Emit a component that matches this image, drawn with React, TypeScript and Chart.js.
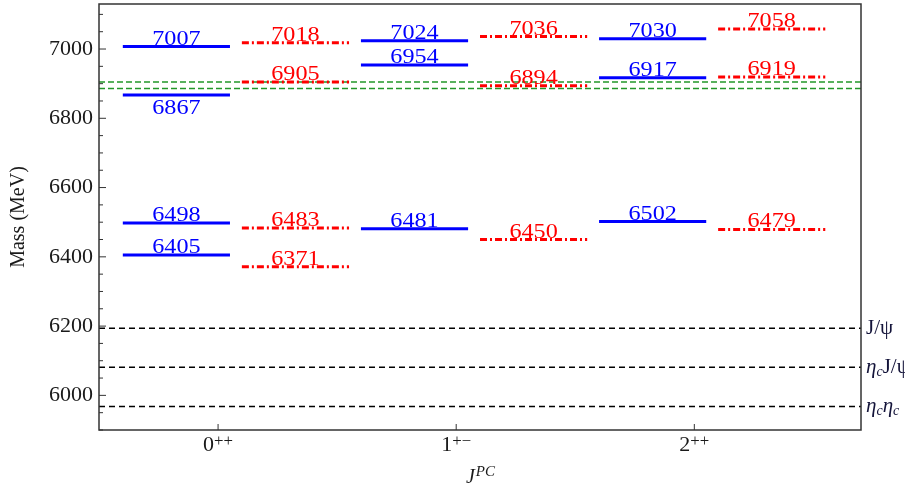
import React, { useEffect, useRef } from 'react';
import { Chart, registerables } from 'chart.js';

Chart.register(...registerables);

// ---- data ----
const categoryDigits = ['0', '1', '2'];
const categoryParity = ['++', '+\u2212', '++'];
const blueMasses = [
  [6405, 6498, 6867, 7007],
  [6481, 6954, 7024],
  [6502, 6917, 7030],
];
const redMasses = [
  [6371, 6483, 6905, 7018],
  [6450, 6894, 7036],
  [6479, 6919, 7058],
];
const labelsBelow = [6867];
const thresholdMasses = [6194, 6081, 5968];
const thresholdNames = [
  [{ t: 'J/\u03C8' }],
  [{ t: '\u03B7', i: true }, { t: 'c', sub: true, i: true }, { t: 'J/\u03C8' }],
  [{ t: '\u03B7', i: true }, { t: 'c', sub: true, i: true }, { t: '\u03B7', i: true }, { t: 'c', sub: true, i: true }],
];
const x6900Masses = [6905, 6886];
const yMin = 5900;
const yMax = 7130;
const yMajorStep = 200;
const yMinorStep = 50;

const SERIF = '"Liberation Serif", "DejaVu Serif", serif';
const BLUE = '#0000ff';
const RED = '#ff0000';

function buildDatasets() {
  const ds: any[] = [];
  thresholdMasses.forEach((m) => {
    ds.push({
      data: [{ x: -0.5, y: m }, { x: 2.7, y: m }],
      borderColor: '#000000', borderWidth: 1.5, borderDash: [6, 4],
      pointRadius: 0, showLine: true, order: 5,
    });
  });
  x6900Masses.forEach((m) => {
    ds.push({
      data: [{ x: -0.5, y: m }, { x: 2.7, y: m }],
      borderColor: '#22962a', borderWidth: 1.5, borderDash: [6, 3],
      pointRadius: 0, showLine: true, order: 5,
    });
  });
  blueMasses.forEach((arr, i) => {
    arr.forEach((m) => {
      ds.push({
        data: [{ x: i - 0.4, y: m }, { x: i + 0.05, y: m }],
        borderColor: BLUE, borderWidth: 3, pointRadius: 0, showLine: true,
        massLabel: String(m), labelColor: BLUE, order: 1,
      });
    });
  });
  redMasses.forEach((arr, i) => {
    arr.forEach((m) => {
      ds.push({
        data: [{ x: i + 0.1, y: m }, { x: i + 0.55, y: m }],
        borderColor: RED, borderWidth: 3, borderDash: [7, 3, 2, 3], pointRadius: 0, showLine: true,
        massLabel: String(m), labelColor: RED, order: 1,
      });
    });
  });
  return ds;
}

function drawScaled(ctx: CanvasRenderingContext2D, text: string, x: number, y: number, sx: number) {
  ctx.save();
  ctx.translate(x, y);
  ctx.scale(sx, 1);
  ctx.fillText(text, 0, 0);
  ctx.restore();
}

const decorPlugin = {
  id: 'decor',
  afterDatasetsDraw(chart: any) {
    const ctx: CanvasRenderingContext2D = chart.ctx;
    const area = chart.chartArea;
    const xs = chart.scales.x;
    const ys = chart.scales.y;

    // value labels
    chart.data.datasets.forEach((d: any, idx: number) => {
      if (!d.massLabel) return;
      const pts = chart.getDatasetMeta(idx).data;
      const cx = (pts[0].x + pts[1].x) / 2;
      const cy = pts[0].y;
      ctx.save();
      ctx.fillStyle = d.labelColor;
      ctx.font = `22px ${SERIF}`;
      ctx.textAlign = 'center';
      const below = labelsBelow.includes(Number(d.massLabel));
      ctx.textBaseline = 'alphabetic';
      if (below) drawScaled(ctx, d.massLabel, cx, cy + 19, 1.1);
      else drawScaled(ctx, d.massLabel, cx, cy - 2, 1.1);
      ctx.restore();
    });

    // frame
    ctx.save();
    ctx.strokeStyle = '#333333';
    ctx.lineWidth = 1.5;
    ctx.strokeRect(area.left, area.top, area.right - area.left, area.bottom - area.top);

    // y ticks (inward)
    ctx.lineWidth = 1;
    for (let v = Math.ceil(yMin / yMinorStep) * yMinorStep; v <= yMax; v += yMinorStep) {
      const py = ys.getPixelForValue(v);
      const len = v % yMajorStep === 0 ? 7 : 4;
      ctx.beginPath();
      ctx.moveTo(area.left, py);
      ctx.lineTo(area.left + len, py);
      ctx.stroke();
    }
    // x ticks (inward) and labels
    categoryDigits.forEach((dgt, i) => {
      const px = xs.getPixelForValue(i);
      ctx.beginPath();
      ctx.moveTo(px, area.bottom);
      ctx.lineTo(px, area.bottom - 6);
      ctx.stroke();
      ctx.fillStyle = '#1a1a1a';
      ctx.textBaseline = 'alphabetic';
      ctx.textAlign = 'left';
      ctx.font = `20px ${SERIF}`;
      const w1 = ctx.measureText(dgt).width * 1.1;
      ctx.font = `16px ${SERIF}`;
      const w2 = ctx.measureText(categoryParity[i]).width * 1.05;
      const start = px - (w1 + w2) / 2;
      ctx.font = `20px ${SERIF}`;
      drawScaled(ctx, dgt, start, 451, 1.1);
      ctx.font = `16px ${SERIF}`;
      drawScaled(ctx, categoryParity[i], start + w1, 446, 1.05);
    });

    // x title J^PC
    ctx.fillStyle = '#1a1a1a';
    ctx.font = `italic 20px ${SERIF}`;
    const cxT = (area.left + area.right) / 2;
    const wJ = ctx.measureText('J').width;
    ctx.font = `italic 15px ${SERIF}`;
    const wPC = ctx.measureText('PC').width;
    const sT = cxT - (wJ + wPC) / 2;
    ctx.font = `italic 20px ${SERIF}`;
    ctx.fillText('J', sT, 483);
    ctx.font = `italic 15px ${SERIF}`;
    ctx.fillText('PC', sT + wJ + 1, 476);

    // y title
    ctx.save();
    ctx.translate(19, (area.top + area.bottom) / 2);
    ctx.rotate(-Math.PI / 2);
    ctx.textAlign = 'center';
    ctx.textBaseline = 'middle';
    ctx.font = `20px ${SERIF}`;
    ctx.fillText('Mass (MeV)', 0, 0);
    ctx.restore();

    // threshold labels
    thresholdMasses.forEach((m, i) => {
      const py = ys.getPixelForValue(m);
      let x = area.right + 5;
      ctx.fillStyle = '#14143a';
      ctx.textAlign = 'left';
      ctx.textBaseline = 'middle';
      thresholdNames[i].forEach((seg: any) => {
        const size = seg.sub ? 14 : 21;
        ctx.font = `${seg.i ? 'italic ' : ''}${size}px ${SERIF}`;
        ctx.fillText(seg.t, x, seg.sub ? py + 5 : py);
        x += ctx.measureText(seg.t).width;
      });
    });
    ctx.restore();
  },
};

export default function App() {
  const ref = useRef<HTMLCanvasElement | null>(null);
  useEffect(() => {
    if (!ref.current) return;
    const chart = new Chart(ref.current, {
      type: 'scatter',
      data: { datasets: buildDatasets() },
      options: {
        animation: false,
        responsive: true,
        maintainAspectRatio: false,
        layout: { padding: { left: 0, right: 44, top: 4, bottom: 0 } },
        plugins: { legend: { display: false }, tooltip: { enabled: false } },
        scales: {
          x: {
            type: 'linear', min: -0.5, max: 2.7,
            grid: { display: false, drawTicks: false, tickLength: 0 },
            border: { display: false },
            ticks: { display: false },
            afterFit: (s: any) => { s.height = 60; s.paddingLeft = 0; s.paddingRight = 0; },
          },
          y: {
            type: 'linear', min: yMin, max: yMax,
            grid: { display: false, drawTicks: false, tickLength: 0 },
            border: { display: false },
            ticks: {
              stepSize: yMinorStep,
              padding: 6,
              color: '#1a1a1a',
              font: { family: SERIF, size: 22 },
              callback: (v: any) => (Number(v) % yMajorStep === 0 ? String(v) : ''),
              autoSkip: false,
            },
            afterFit: (s: any) => { s.width = 99; s.paddingTop = 0; s.paddingBottom = 0; },
          },
        },
      },
      plugins: [decorPlugin],
    } as any);
    return () => chart.destroy();
  }, []);
  return (
    <div style={{ position: 'fixed', left: 0, top: 0, width: 905, height: 490 }}>
      <canvas ref={ref} />
    </div>
  );
}
